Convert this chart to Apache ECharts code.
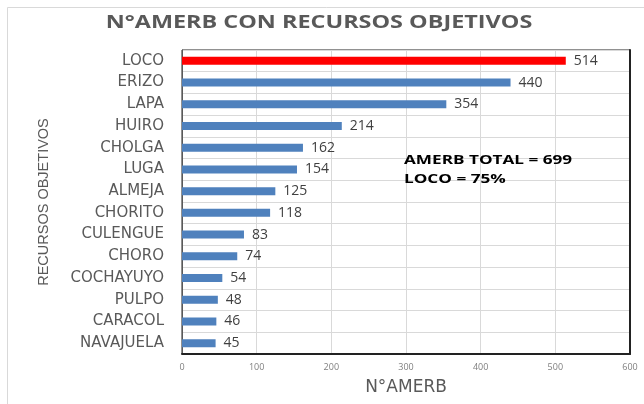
<!DOCTYPE html>
<html>
<head>
<meta charset="utf-8">
<script src="https://cdn.jsdelivr.net/npm/echarts@6/dist/echarts.min.js"></script>
<style>
  html, body { margin: 0; padding: 0; background: #fff; }
  #main { width: 644px; height: 404px; }
</style>
</head>
<body>
<div id="main"></div>
<script>
const categories = ['LOCO', 'ERIZO', 'LAPA', 'HUIRO', 'CHOLGA', 'LUGA', 'ALMEJA', 'CHORITO', 'CULENGUE', 'CHORO', 'COCHAYUYO', 'PULPO', 'CARACOL', 'NAVAJUELA'];
const values = [514, 440, 354, 214, 162, 154, 125, 118, 83, 74, 54, 48, 46, 45];
const highlight = 'LOCO';
const titleText = 'N°AMERB CON RECURSOS OBJETIVOS';
const notes = ['AMERB TOTAL = 699', 'LOCO = 75%'];

const font = '"Open Sans", "Noto Sans", sans-serif';
const wide = '"DejaVu Sans", sans-serif';
const chart = echarts.init(document.getElementById('main'));

chart.setOption({
  backgroundColor: '#fff',
  graphic: [
    {
      type: 'rect',
      shape: { x: 7.5, y: 7.5, width: 660, height: 420 },
      style: { fill: 'none', stroke: '#d9d9d9', lineWidth: 1 },
      silent: true
    },
    {
      // title, stretched sideways like the original
      type: 'text',
      x: 319, y: 23,
      scaleX: 1.3,
      z: 100,
      style: {
        text: titleText,
        font: 'bold 18px ' + font,
        fill: '#595959',
        align: 'center',
        verticalAlign: 'middle'
      }
    },
    {
      type: 'text',
      x: 404, y: 151,
      scaleX: 1.32,
      z: 100,
      style: {
        text: notes.join('\n'),
        font: 'bold 13px ' + font,
        fill: '#000',
        lineHeight: 19
      }
    }
  ],
  grid: {
    left: 182, right: 14, top: 50, bottom: 50,
    show: true, borderColor: '#222', borderWidth: 1
  },
  xAxis: {
    type: 'value',
    min: 0, max: 600, interval: 100,
    name: 'N°AMERB',
    nameLocation: 'middle',
    nameGap: 25,
    nameTextStyle: { fontFamily: wide, fontSize: 17, color: '#595959' },
    axisLine: { show: true, lineStyle: { color: '#222', width: 2 } },
    axisTick: { show: false },
    axisLabel: { fontFamily: font, fontSize: 9, color: '#7f7f7f', margin: 9 },
    splitLine: { show: true, lineStyle: { color: '#d9d9d9', width: 1 } }
  },
  yAxis: [
    {
      type: 'category',
      data: categories,
      inverse: true,
      name: 'RECURSOS OBJETIVOS',
      nameLocation: 'middle',
      nameGap: 131,
      nameTextStyle: { fontFamily: '"Liberation Sans Narrow", "Liberation Sans", sans-serif', fontSize: 14.5, color: '#595959' },
      axisLine: { show: true, lineStyle: { color: '#595959', width: 1 } },
      axisTick: { show: false },
      axisLabel: { fontFamily: wide, fontSize: 15, color: '#595959', margin: 18 },
      splitLine: { show: true, interval: 0, lineStyle: { color: '#d9d9d9', width: 1 } }
    },
    {
      type: 'category',
      data: categories,
      inverse: true,
      position: 'right',
      axisLine: { show: true, lineStyle: { color: '#222', width: 2 } },
      axisTick: { show: false },
      axisLabel: { show: false },
      splitLine: { show: false }
    }
  ],
  series: [{
    type: 'bar',
    data: values.map((v, i) => ({
      value: v,
      itemStyle: { color: categories[i] === highlight ? '#ff0000' : '#4f81bd' }
    })),
    barWidth: 8,
    label: {
      show: true,
      position: 'right',
      distance: 8,
      fontFamily: font,
      fontSize: 14,
      color: '#404040'
    }
  }]
});
</script>
</body>
</html>
